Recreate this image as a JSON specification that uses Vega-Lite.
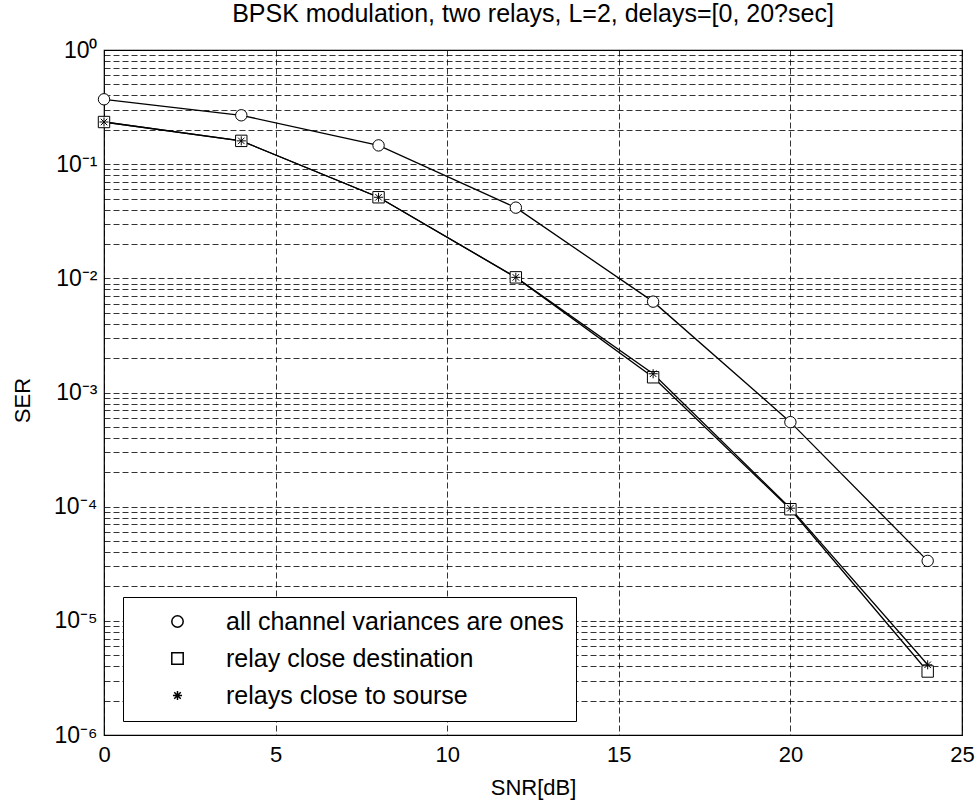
{
  "$schema": "https://vega.github.io/schema/vega-lite/v6.json",
  "width": 858,
  "height": 685,
  "autosize": {"type": "none"},
  "padding": {"left": 104, "top": 50, "right": 17, "bottom": 73},
  "background": "white",
  "title": {
    "text": "BPSK modulation, two relays, L=2, delays=[0, 20?sec]",
    "fontSize": 25,
    "font": "Liberation Sans",
    "fontWeight": "normal",
    "color": "black",
    "anchor": "middle",
    "baseline": "alphabetic",
    "offset": -8
  },
  "config": {
    "view": {"stroke": "black", "strokeWidth": 1.2},
    "font": "Liberation Sans"
  },
  "data": {
    "values": [
      {"snr": 0, "ser": 0.37, "series": "all channel variances are ones"},
      {"snr": 4, "ser": 0.268, "series": "all channel variances are ones"},
      {"snr": 8, "ser": 0.146, "series": "all channel variances are ones"},
      {"snr": 12, "ser": 0.0416, "series": "all channel variances are ones"},
      {"snr": 16, "ser": 0.00625, "series": "all channel variances are ones"},
      {"snr": 20, "ser": 0.00055, "series": "all channel variances are ones"},
      {"snr": 24, "ser": 3.35e-5, "series": "all channel variances are ones"},
      {"snr": 0, "ser": 0.234, "series": "relay close destination"},
      {"snr": 4, "ser": 0.16, "series": "relay close destination"},
      {"snr": 8, "ser": 0.0513, "series": "relay close destination"},
      {"snr": 12, "ser": 0.0102, "series": "relay close destination"},
      {"snr": 16, "ser": 0.00136, "series": "relay close destination"},
      {"snr": 20, "ser": 9.5e-5, "series": "relay close destination"},
      {"snr": 24, "ser": 3.6e-6, "series": "relay close destination"},
      {"snr": 0, "ser": 0.234, "series": "relays close to sourse"},
      {"snr": 4, "ser": 0.16, "series": "relays close to sourse"},
      {"snr": 8, "ser": 0.0513, "series": "relays close to sourse"},
      {"snr": 12, "ser": 0.0102, "series": "relays close to sourse"},
      {"snr": 16, "ser": 0.00146, "series": "relays close to sourse"},
      {"snr": 20, "ser": 9.7e-5, "series": "relays close to sourse"},
      {"snr": 24, "ser": 4.12e-6, "series": "relays close to sourse"}
    ]
  },
  "encoding": {
    "x": {
      "field": "snr",
      "type": "quantitative",
      "scale": {"domain": [0, 25], "nice": false, "zero": false},
      "axis": {
        "values": [0, 5, 10, 15, 20, 25],
        "title": "SNR[dB]",
        "grid": true,
        "gridDash": [6, 3],
        "gridColor": "black",
        "gridOpacity": 1,
        "gridWidth": 0.8,
        "domain": false,
        "ticks": false,
        "labelFontSize": 22,
        "labelFont": "Liberation Sans",
        "labelColor": "black",
        "labelPadding": 9,
        "labelFlush": false,
        "labelOverlap": false,
        "titleFontSize": 22,
        "titleFont": "Liberation Sans",
        "titleFontWeight": "normal",
        "titleColor": "black",
        "titleY": 52,
        "titleBaseline": "middle"
      }
    },
    "y": {
      "field": "ser",
      "type": "quantitative",
      "scale": {"type": "log", "domain": [1e-6, 1], "nice": false},
      "axis": {
        "values": [1e-6, 2e-6, 3e-6, 4e-6, 5e-6, 6e-6, 7e-6, 8e-6, 9e-6,
                   1e-5, 2e-5, 3e-5, 4e-5, 5e-5, 6e-5, 7e-5, 8e-5, 9e-5,
                   1e-4, 2e-4, 3e-4, 4e-4, 5e-4, 6e-4, 7e-4, 8e-4, 9e-4,
                   0.001, 0.002, 0.003, 0.004, 0.005, 0.006, 0.007, 0.008, 0.009,
                   0.01, 0.02, 0.03, 0.04, 0.05, 0.06, 0.07, 0.08, 0.09,
                   0.1, 0.2, 0.3, 0.4, 0.5, 0.6, 0.7, 0.8, 0.9, 1],
        "labelExpr": "abs(log(datum.value)/LN10 - round(log(datum.value)/LN10)) < 0.001 ? '10' + replace(replace(replace(replace(replace(replace(replace(replace('' + round(log(datum.value)/LN10), '-', '⁻'), '0', '⁰'), '1', '¹'), '2', '²'), '3', '³'), '4', '⁴'), '5', '⁵'), '6', '⁶') : ''",
        "title": "SER",
        "grid": true,
        "gridDash": [6, 3],
        "gridColor": "black",
        "gridOpacity": 1,
        "gridWidth": 0.8,
        "domain": false,
        "ticks": false,
        "labelFontSize": 23,
        "labelFont": "Liberation Sans",
        "labelColor": "black",
        "labelPadding": 7,
        "labelOverlap": false,
        "labelBound": false,
        "labelFlush": false,
        "titleFontSize": 22,
        "titleFont": "Liberation Sans",
        "titleFontWeight": "normal",
        "titleColor": "black",
        "titleX": -82,
        "titleY": 350,
        "titleBaseline": "middle"
      }
    }
  },
  "layer": [
    {
      "mark": {"type": "line", "color": "black", "strokeWidth": 1.3},
      "encoding": {"detail": {"field": "series", "type": "nominal"}}
    },
    {
      "mark": {"type": "point", "filled": false, "fill": "white", "stroke": "black", "strokeWidth": 1, "size": 130, "opacity": 1},
      "encoding": {
        "shape": {
          "field": "series",
          "type": "nominal",
          "scale": {
            "domain": ["all channel variances are ones", "relay close destination", "relays close to sourse"],
            "range": ["circle", "square", "M-0.8,0H0.8M0,-0.8V0.8M-0.57,-0.57L0.57,0.57M-0.57,0.57L0.57,-0.57"]
          },
          "legend": {
            "orient": "none",
            "legendX": 19,
            "legendY": 547,
            "title": null,
            "strokeColor": "black",
            "fillColor": "white",
            "padding": 12,
            "rowPadding": 11,
            "labelFontSize": 25,
            "labelFont": "Liberation Sans",
            "labelColor": "black",
            "labelOffset": 36,
            "labelLimit": 500,
            "symbolSize": 130,
            "symbolOffset": 30
          }
        }
      }
    }
  ]
}
